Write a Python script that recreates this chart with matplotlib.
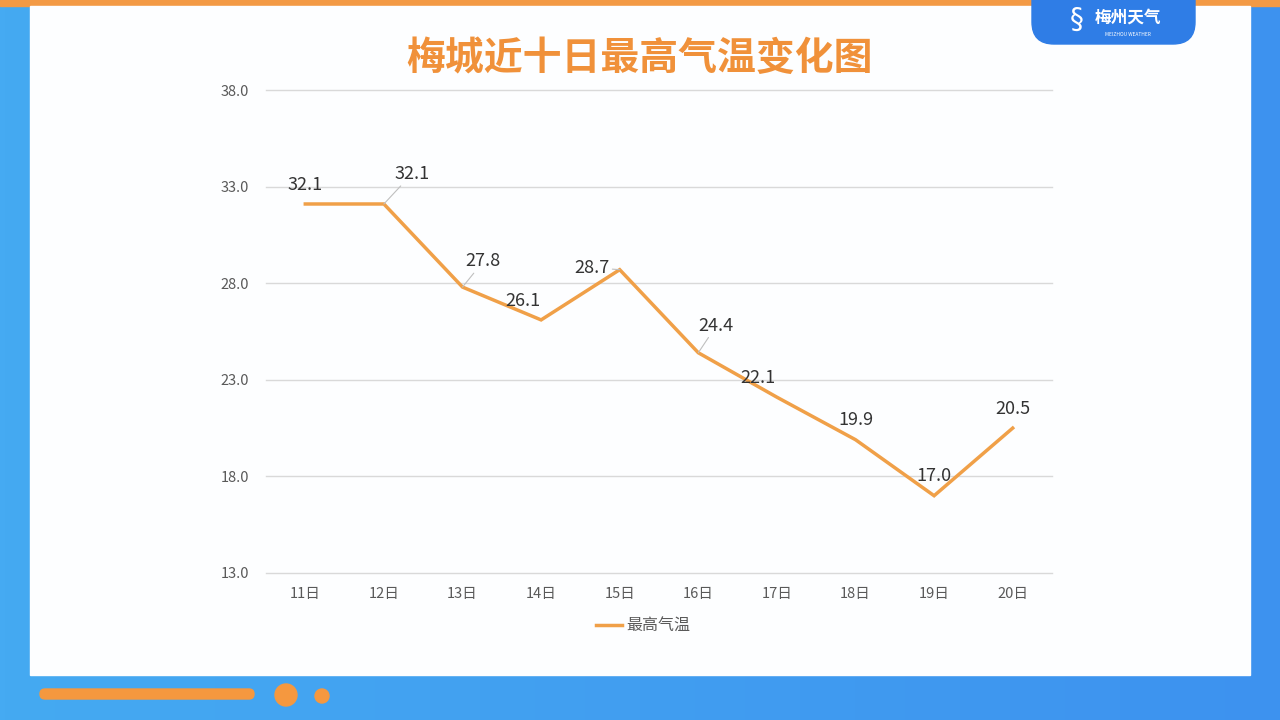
import numpy as np
import matplotlib
matplotlib.use("Agg")
import matplotlib.pyplot as plt
from matplotlib.patches import FancyBboxPatch, Rectangle, Circle
from matplotlib.colors import LinearSegmentedColormap

plt.rcParams['font.family'] = ['Noto Sans CJK SC', 'DejaVu Sans']

# 데이터
days = ["11日", "12日", "13日", "14日", "15日", "16日", "17日", "18日", "19日", "20日"]
temps = [32.1, 32.1, 27.8, 26.1, 28.7, 24.4, 22.1, 19.9, 17.0, 20.5]
yticks = [13.0, 18.0, 23.0, 28.0, 33.0, 38.0]
# 라벨 위치 (포인트 단위 오프셋), 리더 라인 여부
label_offsets = [(0, 7), (20, 15), (15, 12), (-13, 7), (-20, -5), (13, 13), (-14, 7), (0, 8), (0, 8), (0, 7)]
leaders = [False, True, True, False, True, True, False, False, False, False]

W, H = 1280, 720
fig = plt.figure(figsize=(12.8, 7.2), dpi=100)

# 배경 (파란 그라데이션)
bg = fig.add_axes([0, 0, 1, 1])
bg.set_xlim(0, W)
bg.set_ylim(H, 0)
bg.axis("off")
grad = np.linspace(0, 1, 256).reshape(1, -1)
cmap = LinearSegmentedColormap.from_list("bgc", ["#45aaf2", "#3d92ef"])
bg.imshow(grad, extent=[0, W, H, 0], aspect="auto", cmap=cmap, zorder=0)

# 위쪽 주황 띠
bg.add_patch(Rectangle((0, 0), W, 6, color="#f39a45", zorder=1))
# 흰 패널
bg.add_patch(Rectangle((30, 6), 1220, 669, color="#fdfeff", zorder=2))
# 로고 탭
bg.add_patch(FancyBboxPatch((1032, -30), 163, 74, boxstyle="round,pad=0,rounding_size=22",
                            color="#2f7de6", zorder=3))
bg.text(1077, 20, "§", color="white", fontsize=20, ha="center", va="center", zorder=4,
        family=["DejaVu Sans"])
bg.text(1128, 18, "梅州天气", color="white", fontsize=12, ha="center", va="center",
        weight="bold", zorder=4)
bg.text(1128, 34, "MEIZHOU WEATHER", color="white", fontsize=3.5, ha="center", va="center", zorder=4)

# 아래쪽 장식
bg.add_patch(FancyBboxPatch((40, 689), 214, 10, boxstyle="round,pad=0,rounding_size=5",
                            color="#f5983f", zorder=3))
bg.add_patch(Circle((286, 695), 11, color="#f5983f", zorder=3))
bg.add_patch(Circle((322, 696), 7, color="#f5983f", zorder=3))

# 제목
bg.text(640, 58, "梅城近十日最高气温变化图", color="#f0913a", fontsize=28, weight="black",
        ha="center", va="center", zorder=4)

# 그래프
ax = fig.add_axes([266 / W, 1 - 573 / H, (1052 - 266) / W, (573 - 90) / H])
ax.set_zorder(5)
ax.patch.set_alpha(0)
x = np.arange(len(days))
ax.plot(x, temps, color="#f0a048", lw=2.5, label="最高气温", solid_joinstyle="miter")
ax.set_xlim(-0.5, len(days) - 0.5)
ax.set_ylim(13, 38)
ax.set_yticks(yticks)
ax.set_yticklabels([f"{v:.1f}" for v in yticks])
ax.set_xticks(x)
ax.set_xticklabels(days)
ax.grid(axis="y", color="#d9d9d9", lw=1)
for gl in ax.get_ygridlines():
    gl.set_clip_on(False)
ax.set_axisbelow(True)
for s in ax.spines.values():
    s.set_visible(False)
ax.tick_params(length=0, colors="#595959", labelsize=10.5)
ax.tick_params(axis="y", pad=12)
ax.tick_params(axis="x", pad=10)

for i, v in enumerate(temps):
    dx, dy = label_offsets[i]
    kw = {}
    if leaders[i]:
        kw["arrowprops"] = dict(arrowstyle="-", color="#bfbfbf", lw=0.8, shrinkA=0, shrinkB=0)
    ax.annotate(f"{v:.1f}", (i, v), xytext=(dx, dy), textcoords="offset points",
                ha="center", va="bottom", fontsize=13, color="#333333", **kw)

leg = ax.legend(loc="upper center", bbox_to_anchor=(0.48, -0.063), frameon=False,
                fontsize=11.5, handlelength=1.6, handletextpad=0.3)
for t in leg.get_texts():
    t.set_color("#595959")

fig.savefig("out.png", dpi=100)
